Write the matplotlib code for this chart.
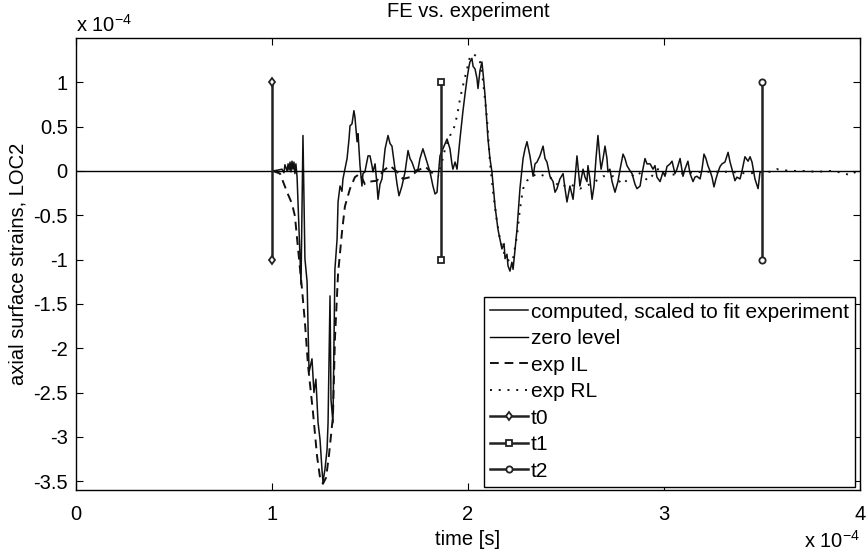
import matplotlib
matplotlib.use("Agg")
import matplotlib.pyplot as plt

plt.rcParams['font.family'] = ['Liberation Sans', 'DejaVu Sans']
plt.rcParams['mathtext.fontset'] = 'custom'
plt.rcParams['mathtext.rm'] = 'Liberation Sans'

# all values in units of 1e-4
t_comp = [1.005, 1.031, 1.051, 1.061, 1.066, 1.077, 1.082, 1.087, 1.092, 1.097, 1.102, 1.107, 1.112, 1.117,
          1.122, 1.128, 1.138, 1.148, 1.158, 1.168, 1.179, 1.184, 1.189, 1.204, 1.214, 1.224, 1.235, 1.245,
          1.255, 1.260, 1.270, 1.281, 1.286, 1.296, 1.301, 1.311, 1.316, 1.321, 1.332, 1.337, 1.347, 1.357,
          1.362, 1.372, 1.383, 1.393, 1.398, 1.408, 1.418, 1.423, 1.434, 1.439, 1.449, 1.459, 1.464, 1.474,
          1.490, 1.500, 1.510, 1.515, 1.526, 1.536, 1.541, 1.551, 1.561, 1.577, 1.592, 1.602, 1.612, 1.628,
          1.638, 1.648, 1.663, 1.679, 1.694, 1.704, 1.714, 1.730, 1.745, 1.755, 1.770, 1.781, 1.791, 1.806,
          1.821, 1.832, 1.842, 1.847, 1.857, 1.872, 1.883, 1.893, 1.908, 1.918, 1.923, 1.934, 1.944, 1.959,
          1.974, 1.985, 1.995, 2.005, 2.010, 2.020, 2.026, 2.036, 2.046, 2.051, 2.061, 2.071, 2.077, 2.087,
          2.102, 2.112, 2.122, 2.138, 2.153, 2.163, 2.173, 2.184, 2.189, 2.199, 2.204, 2.214, 2.224, 2.230,
          2.240, 2.250, 2.265, 2.281, 2.291, 2.301, 2.316, 2.332, 2.342, 2.352, 2.367, 2.383, 2.393, 2.403,
          2.418, 2.434, 2.444, 2.454, 2.469, 2.485, 2.495, 2.505, 2.520, 2.536, 2.546, 2.556, 2.571, 2.587,
          2.597, 2.607, 2.612, 2.622, 2.633, 2.643, 2.653, 2.663, 2.673, 2.679, 2.689, 2.699, 2.709, 2.714,
          2.724, 2.735, 2.750, 2.765, 2.776, 2.791, 2.801, 2.811, 2.827, 2.837, 2.852, 2.862, 2.878, 2.888,
          2.903, 2.913, 2.929, 2.944, 2.954, 2.964, 2.980, 2.995, 3.005, 3.015, 3.031, 3.041, 3.056, 3.066,
          3.082, 3.097, 3.107, 3.122, 3.133, 3.148, 3.158, 3.168, 3.184, 3.194, 3.204, 3.214, 3.224, 3.235,
          3.245, 3.255, 3.265, 3.276, 3.286, 3.296, 3.311, 3.327, 3.337, 3.347, 3.362, 3.372, 3.388, 3.398,
          3.413, 3.429, 3.439, 3.449, 3.464, 3.480, 3.490]
y_comp = [0.00, 0.01, 0.02, -0.02, 0.07, 0.00, 0.08, 0.01, 0.10, -0.01, 0.11, 0.02, 0.10, -0.03,
          0.08, -0.07, -0.66, -1.28, 0.40, -0.99, -1.25, -1.79, -2.27, -2.12, -2.50, -2.35, -2.84, -3.03,
          -3.37, -3.51, -3.37, -3.14, -2.84, -1.41, -2.58, -2.84, -2.01, -1.11, -0.77, -0.35, -0.17, -0.23,
          -0.09, 0.02, 0.14, 0.36, 0.51, 0.53, 0.68, 0.61, 0.33, 0.42, 0.06, -0.17, -0.03, -0.01,
          0.17, 0.17, 0.06, -0.01, 0.08, -0.17, -0.32, -0.15, -0.09, 0.25, 0.40, 0.31, 0.28, 0.02,
          -0.15, -0.28, -0.17, -0.01, 0.23, 0.14, 0.10, 0.00, 0.02, 0.14, 0.25, 0.17, 0.10, -0.01,
          -0.17, -0.26, -0.24, -0.09, 0.17, 0.25, 0.31, 0.36, 0.25, 0.08, 0.02, 0.10, 0.02, 0.36,
          0.67, 0.87, 1.04, 1.18, 1.23, 1.27, 1.18, 1.15, 1.04, 0.93, 1.13, 1.23, 1.10, 0.85,
          0.36, 0.14, -0.01, -0.40, -0.66, -0.77, -0.88, -0.82, -0.99, -0.94, -1.07, -1.13, -1.03, -1.11,
          -0.88, -0.66, -0.20, 0.14, 0.25, 0.33, 0.17, -0.06, 0.08, 0.10, 0.17, 0.28, 0.14, 0.10,
          -0.06, -0.12, -0.24, -0.20, -0.09, -0.03, -0.20, -0.35, -0.17, -0.32, -0.09, 0.17, -0.17, 0.02,
          -0.07, -0.12, 0.06, -0.09, -0.32, -0.17, 0.14, 0.40, 0.14, 0.02, 0.14, 0.28, 0.14, -0.01,
          0.02, -0.12, -0.24, -0.12, 0.02, 0.19, 0.14, 0.06, 0.00, -0.03, -0.15, -0.20, -0.17, -0.03,
          0.14, 0.08, 0.08, 0.02, 0.06, -0.07, -0.12, -0.01, -0.06, 0.05, 0.08, 0.11, -0.03, 0.02,
          0.14, -0.06, 0.02, 0.11, -0.03, -0.12, -0.07, -0.06, -0.09, 0.02, 0.19, 0.14, 0.06, 0.00,
          -0.07, -0.18, -0.09, -0.01, 0.05, 0.08, 0.10, 0.21, 0.10, 0.02, -0.11, -0.07, -0.09, 0.00,
          0.16, 0.11, 0.16, 0.10, -0.09, -0.20, -0.01]

t_il = [1.005, 1.041, 1.077, 1.102, 1.117, 1.133, 1.153, 1.168, 1.184, 1.209, 1.230, 1.245, 1.260, 1.276,
        1.291, 1.311, 1.321, 1.337, 1.357, 1.372, 1.398, 1.423, 1.449, 1.474, 1.500, 1.536, 1.566, 1.602,
        1.638, 1.668, 1.704, 1.740, 1.781, 1.821, 1.852]
y_il = [0.00, -0.03, -0.24, -0.37, -0.51, -0.88, -1.33, -1.71, -2.20, -2.72, -3.22, -3.46, -3.53, -3.46,
        -3.20, -2.77, -1.90, -1.16, -0.69, -0.40, -0.20, -0.07, -0.03, -0.15, -0.12, -0.11, 0.00, 0.06,
        -0.01, -0.09, -0.07, 0.00, 0.05, -0.03, -0.06]

t_rl = [1.857, 1.867, 1.883, 1.908, 1.923, 1.944, 1.959, 1.974, 1.995, 2.010, 2.026, 2.046, 2.061, 2.077,
        2.097, 2.112, 2.128, 2.148, 2.163, 2.189, 2.214, 2.230, 2.250, 2.265, 2.281, 2.301, 2.327, 2.357,
        2.393, 2.418, 2.469, 2.520, 2.571, 2.622, 2.663, 2.689, 2.740, 2.791, 2.816, 2.867, 2.918, 2.969,
        3.020, 3.082, 3.133, 3.194, 3.260, 3.337, 3.429, 3.500, 3.551, 3.577, 3.643, 3.709, 3.781, 3.847,
        3.913, 3.949, 3.985]
y_rl = [0.02, 0.10, 0.25, 0.40, 0.44, 0.62, 0.81, 0.96, 1.15, 1.29, 1.32, 1.29, 1.23, 1.01,
        0.59, 0.10, -0.24, -0.58, -0.77, -0.96, -1.03, -0.99, -0.73, -0.43, -0.20, -0.11, -0.06, -0.03,
        -0.06, -0.07, -0.18, -0.15, -0.20, -0.15, -0.10, -0.06, -0.06, -0.15, -0.09, -0.01, -0.11, 0.02,
        -0.05, -0.03, -0.02, -0.01, -0.01, -0.01, -0.03, -0.01, -0.01, 0.02, 0.00, 0.00, -0.01, 0.00,
        -0.02, -0.05, 0.00]

t_marks = [1.0, 1.86, 3.5]
mark_lo, mark_hi = -1.0, 1.0
zero_t = [0.0, 4.0]
zero_y = [0.0, 0.0]

x_ticks = [0, 1, 2, 3, 4]
y_ticks = [-3.5, -3, -2.5, -2, -1.5, -1, -0.5, 0, 0.5, 1]
y_ticklabels = ['-3.5', '-3', '-2.5', '-2', '-1.5', '-1', '-0.5', '0', '0.5', '1']

fig = plt.figure(figsize=(8.66, 5.55), dpi=100)
ax = fig.add_axes([76/866, 65/555, 784/866, 452/555])

fs = 14.5
ax.plot(t_comp, y_comp, color='#111111', lw=1.1, label='computed, scaled to fit experiment')
ax.plot(zero_t, zero_y, color='black', lw=1.0, label='zero level')
ax.plot(t_il, y_il, color='#111111', lw=1.4, ls=(0, (4.5, 3)), label='exp IL')
ax.plot(t_rl, y_rl, color='#111111', lw=1.4, ls=(0, (1, 3.5)), label='exp RL')
markers = ['d', 's', 'o']
names = ['t0', 't1', 't2']
for tm, mk, nm in zip(t_marks, markers, names):
    ax.plot([tm, tm], [mark_hi, mark_lo], color='#222222', lw=1.8, marker=mk, markersize=4.5,
            markerfacecolor='white', markeredgecolor='#222222', markeredgewidth=1.3, label=nm)

ax.set_xlim(0, 4)
ax.set_ylim(-3.6, 1.5)
ax.set_xticks(x_ticks)
ax.set_xticklabels([str(v) for v in x_ticks])
ax.set_yticks(y_ticks)
ax.set_yticklabels(y_ticklabels)
ax.tick_params(direction='in', top=True, right=True, length=5, width=0.8, labelsize=fs)
ax.tick_params(axis='y', pad=6)
ax.tick_params(axis='x', pad=11)
for s in ax.spines.values():
    s.set_linewidth(1.0)

ax.set_title('FE vs. experiment', fontsize=fs, pad=15)
ax.set_xlabel('time [s]', fontsize=fs, labelpad=4)
ax.set_ylabel('axial surface strains, LOC2', fontsize=fs, labelpad=4)
fig.text(76/866, 1 - 25/555, r'x 10$^{-4}$', fontsize=fs, ha='left', va='center')
fig.text(860/866, 1 - 541/555, r'x 10$^{-4}$', fontsize=fs, ha='right', va='center')

leg = ax.legend(loc='lower right', bbox_to_anchor=(0.9936, 0.0066), fontsize=15, frameon=True,
                fancybox=False, edgecolor='black', framealpha=1, handlelength=1.8, handletextpad=0.15,
                borderpad=0.3, labelspacing=0.36, borderaxespad=0, numpoints=1)
leg.get_frame().set_linewidth(1.0)

fig.savefig('out.png', dpi=100)
